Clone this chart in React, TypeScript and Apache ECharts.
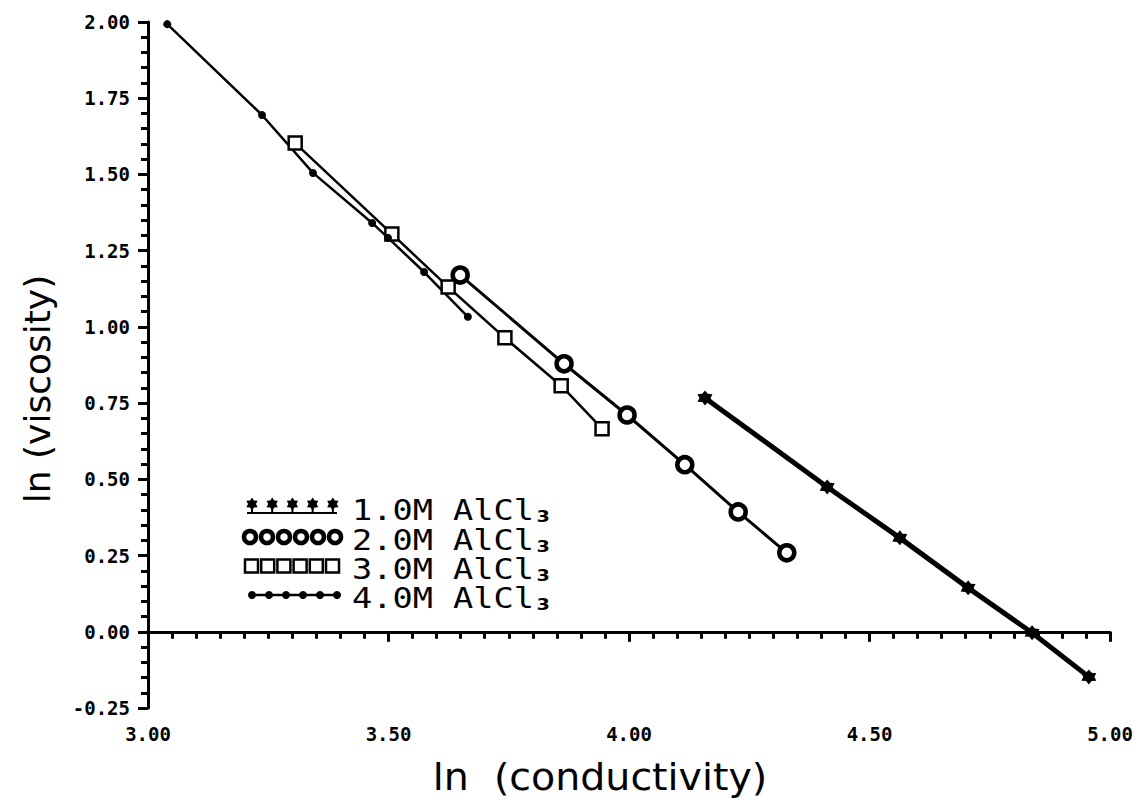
import React, { useEffect, useRef } from 'react';
import * as echarts from 'echarts';

// ---- data ----
const seriesNames = ['1.0M AlCl', '2.0M AlCl', '3.0M AlCl', '4.0M AlCl'];
const subscript = '3';
const x1 = [4.158, 4.412, 4.563, 4.705, 4.838, 4.956];
const y1 = [0.767, 0.475, 0.308, 0.144, -0.003, -0.148];
const x2 = [3.649, 3.865, 3.996, 4.116, 4.227, 4.328];
const y2 = [1.17, 0.879, 0.711, 0.548, 0.393, 0.259];
const x3 = [3.306, 3.507, 3.624, 3.742, 3.859, 3.944];
const y3 = [1.603, 1.305, 1.131, 0.964, 0.807, 0.666];
const x4 = [3.04, 3.237, 3.343, 3.466, 3.499, 3.574, 3.665];
const y4 = [1.993, 1.695, 1.505, 1.341, 1.292, 1.18, 1.033];
const xMin = 3.0;
const xMax = 5.0;
const xStep = 0.5;
const yMin = -0.25;
const yMax = 2.0;
const yStep = 0.25;
const xTitle = 'ln  (conductivity)';
const yTitle = 'ln (viscosity)';

const zip = (a: number[], b: number[]) => a.map((v, i) => [v, b[i]]);

function starPoints(cx: number, cy: number, rOut: number, rIn: number, n: number) {
  const pts: number[][] = [];
  for (let i = 0; i < n * 2; i++) {
    const r = i % 2 === 0 ? rOut : rIn;
    const a = (Math.PI * i) / n - Math.PI / 2;
    pts.push([cx + r * Math.cos(a), cy + r * Math.sin(a)]);
  }
  return pts;
}
function starPath(n: number) {
  const pts = starPoints(50, 50, 50, 32, n);
  return 'path://M' + pts.map((p) => p[0].toFixed(2) + ' ' + p[1].toFixed(2)).join(' L') + ' Z';
}

export default function App() {
  const ref = useRef<HTMLDivElement>(null);
  useEffect(() => {
    if (!ref.current) return;
    const chart = echarts.init(ref.current, undefined, { renderer: 'svg' });
    const black = '#000';
    const rowY = [507, 537, 566, 595];
    const graphics: any[] = [];
    // row 1: stars with underline
    graphics.push({ type: 'line', shape: { x1: 247, y1: rowY[0] + 6, x2: 337, y2: rowY[0] + 6 }, style: { stroke: black, lineWidth: 2 } });
    for (let k = 0; k < 5; k++) {
      graphics.push({ type: 'polygon', shape: { points: starPoints(252 + k * 20.2, rowY[0] - 3, 6.5, 4, 6) }, style: { fill: black } });
      graphics.push({ type: 'line', shape: { x1: 252 + k * 20.2, y1: rowY[0] - 3, x2: 252 + k * 20.2, y2: rowY[0] + 6 }, style: { stroke: black, lineWidth: 2 } });
    }
    // row 2: circles
    for (let k = 0; k < 6; k++) {
      graphics.push({ type: 'circle', shape: { cx: 250 + k * 17, cy: rowY[1], r: 6 }, style: { fill: '#fff', stroke: black, lineWidth: 4.5 } });
    }
    // row 3: squares
    for (let k = 0; k < 6; k++) {
      graphics.push({ type: 'rect', shape: { x: 245 + k * 16.2, y: rowY[2] - 6.5, width: 13, height: 13 }, style: { fill: '#fff', stroke: black, lineWidth: 2.5 } });
    }
    // row 4: dots with line
    graphics.push({ type: 'line', shape: { x1: 250, y1: rowY[3], x2: 337, y2: rowY[3] }, style: { stroke: black, lineWidth: 2.5 } });
    for (let k = 0; k < 6; k++) {
      graphics.push({ type: 'circle', shape: { cx: 252 + k * 17, cy: rowY[3], r: 4 }, style: { fill: black } });
    }
    seriesNames.forEach((nm, i) => {
      graphics.push({
        type: 'text',
        x: 352,
        y: rowY[i],
        scaleX: 1.2,
        style: {
          text: '{a|' + nm + '}{b|' + subscript + '}',
          verticalAlign: 'middle',
          rich: {
            a: { fontFamily: 'DejaVu Sans Mono', fontSize: 28, fill: black, lineHeight: 22, verticalAlign: 'top' },
            b: { fontFamily: 'DejaVu Sans', fontWeight: 'bold', fontSize: 16, fill: black, lineHeight: 14, padding: [13, 0, 0, 2], verticalAlign: 'top' },
          },
        },
      });
    });
    // axis titles
    graphics.push({
      type: 'text',
      x: 600,
      y: 777,
      scaleX: 1.04,
      style: { text: xTitle, fontFamily: 'DejaVu Sans', fontSize: 38, fill: black, align: 'center', verticalAlign: 'middle' },
    });
    graphics.push({
      type: 'text',
      x: 37,
      y: 389,
      rotation: Math.PI / 2,
      style: { text: yTitle, fontFamily: 'DejaVu Sans', fontSize: 36, fill: black, align: 'center', verticalAlign: 'middle' },
    });

    const axisCommon = {
      type: 'value' as const,
      axisLine: { show: true, lineStyle: { color: black, width: 3 } },
      axisTick: { show: true, length: 10, lineStyle: { color: black, width: 3 } },
      splitLine: { show: false },
      axisLabel: {
        color: black,
        fontFamily: 'DejaVu Sans Mono',
        fontWeight: 'bold' as const,
        fontSize: 19,
        formatter: (v: number) => v.toFixed(2),
      },
    };

    chart.setOption({
      animation: false,
      backgroundColor: '#fff',
      grid: { left: 148, right: 30, top: 22, bottom: 96, containLabel: false },
      xAxis: {
        ...axisCommon,
        min: xMin,
        max: xMax,
        interval: xStep,
        minorTick: { show: true, splitNumber: 10, length: 7, lineStyle: { color: black, width: 3 } },
        axisLabel: { ...axisCommon.axisLabel, margin: 16 },
      },
      yAxis: {
        ...axisCommon,
        min: yMin,
        max: yMax,
        interval: yStep,
        minorTick: { show: true, splitNumber: 5, length: 7, lineStyle: { color: black, width: 3 } },
        axisLabel: { ...axisCommon.axisLabel, margin: 18 },
      },
      series: [
        {
          name: seriesNames[0],
          type: 'line',
          data: zip(x1, y1),
          symbol: starPath(6),
          symbolSize: 15,
          lineStyle: { color: black, width: 5 },
          itemStyle: { color: black },
        },
        {
          name: seriesNames[1],
          type: 'line',
          data: zip(x2, y2),
          symbol: 'circle',
          symbolSize: 15,
          lineStyle: { color: black, width: 3 },
          itemStyle: { color: '#fff', borderColor: black, borderWidth: 4.5 },
        },
        {
          name: seriesNames[2],
          type: 'line',
          data: zip(x3, y3),
          symbol: 'rect',
          symbolSize: 13,
          lineStyle: { color: black, width: 2.5 },
          itemStyle: { color: '#fff', borderColor: black, borderWidth: 2.5 },
        },
        {
          name: seriesNames[3],
          type: 'line',
          data: zip(x4, y4),
          symbol: 'circle',
          symbolSize: 8,
          lineStyle: { color: black, width: 2.5 },
          itemStyle: { color: black },
        },
      ],
      graphic: graphics,
    });
    return () => chart.dispose();
  }, []);
  return <div ref={ref} style={{ position: 'fixed', left: 0, top: 0, width: 1140, height: 804 }} />;
}
